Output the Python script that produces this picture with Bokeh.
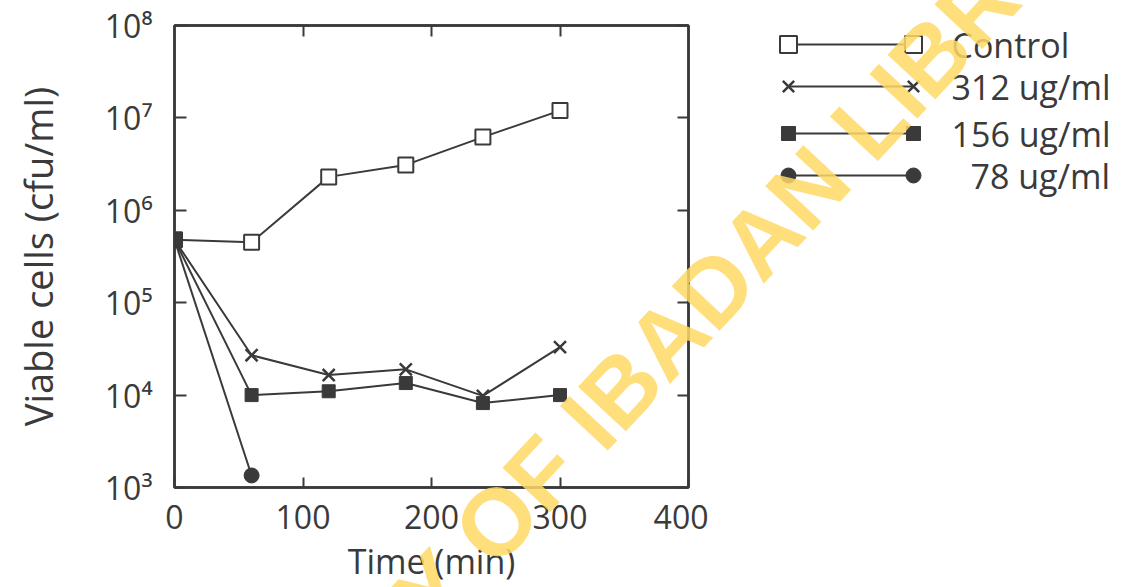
from bokeh.plotting import figure
from bokeh.models import LogAxis, LinearAxis, FixedTicker, Range1d, Label, Div
from bokeh.layouts import row, column
from bokeh.embed import file_html
from bokeh.resources import INLINE

# ---- data ----
time = [0, 60, 120, 180, 240, 300]
control = [4.8e5, 4.5e5, 2.3e6, 3.1e6, 6.2e6, 1.2e7]
conc312 = [4.8e5, 2.7e4, 1.65e4, 1.9e4, 9.8e3, 3.3e4]
conc156 = [4.8e5, 1.0e4, 1.1e4, 1.35e4, 8.2e3, 1.0e4]
time78 = [0, 60]
conc78 = [4.8e5, 1.35e3]

series_names = ["Control", "312 ug/ml", "156 ug/ml", "78 ug/ml"]
x_ticks = [0, 100, 200, 300, 400]
y_ticks = [10**3, 10**4, 10**5, 10**6, 10**7, 10**8]
y_tick_labels = ["10³", "10⁴", "10⁵", "10⁶", "10⁷", "10⁸"]
watermark = "Y OF IBADAN LIBR"

INK = "#3a3a3a"
YEL = "#FFD966"
FONT = "Open Sans"

p = figure(frame_width=514, frame_height=462, y_axis_type="log",
           x_range=Range1d(0, 400), y_range=Range1d(1e3, 1e8),
           output_backend="svg", toolbar_location=None,
           min_border_left=174, min_border_right=20,
           min_border_top=25, min_border_bottom=95)
p.grid.visible = False
p.outline_line_color = INK
p.outline_line_width = 2.5
p.background_fill_color = "white"
p.border_fill_color = "white"

# bottom axis
xa = p.xaxis[0]
xa.ticker = FixedTicker(ticks=x_ticks)
xa.minor_tick_line_color = None
xa.major_tick_in = 10
xa.major_tick_out = 0
xa.axis_line_width = 2.5
xa.axis_line_color = INK
xa.major_tick_line_color = INK
xa.major_tick_line_width = 2
xa.major_label_text_font = FONT
xa.major_label_text_font_size = "32px"
xa.major_label_text_color = INK
xa.major_label_standoff = 17
xa.axis_label = "Time (min)"
xa.axis_label_text_font = FONT
xa.axis_label_text_font_style = "normal"
xa.axis_label_text_font_size = "34px"
xa.axis_label_text_color = INK
xa.axis_label_standoff = 6

# left axis
ya = p.yaxis[0]
ya.ticker = FixedTicker(ticks=y_ticks)
ya.major_label_overrides = dict(zip(y_ticks, y_tick_labels))
ya.minor_tick_line_color = None
ya.major_tick_in = 12
ya.major_tick_out = 0
ya.axis_line_width = 2.5
ya.axis_line_color = INK
ya.major_tick_line_color = INK
ya.major_tick_line_width = 2
ya.major_label_text_font = FONT
ya.major_label_text_font_size = "32px"
ya.major_label_text_color = INK
ya.major_label_standoff = 22
ya.axis_label = "Viable cells (cfu/ml)"
ya.axis_label_text_font = FONT
ya.axis_label_text_font_style = "normal"
ya.axis_label_text_font_size = "38px"
ya.axis_label_text_color = INK
ya.axis_label_standoff = 38

# top and right axes (ticks only, empty labels)
top = LinearAxis(ticker=FixedTicker(ticks=x_ticks[1:-1]))
top.major_label_overrides = {t: "" for t in x_ticks[1:-1]}
right = LogAxis(ticker=FixedTicker(ticks=y_ticks))
right.major_label_overrides = {t: "" for t in y_ticks}
for ax in (top, right):
    ax.major_tick_in = 11
    ax.major_tick_out = 0
    ax.minor_tick_line_color = None
    ax.axis_line_width = 2.5
    ax.axis_line_color = INK
    ax.major_tick_line_color = INK
    ax.major_tick_line_width = 2
    ax.major_label_standoff = 0
p.add_layout(top, "above")
p.add_layout(right, "right")

# series
p.line(time, control, line_color=INK, line_width=2)
p.scatter(time, control, marker="square", size=15, fill_color="white",
          line_color=INK, line_width=2)
p.line(time, conc312, line_color=INK, line_width=2)
p.scatter(time, conc312, marker="x", size=17, line_color=INK, line_width=2.5)
p.line(time, conc156, line_color=INK, line_width=2)
p.scatter(time, conc156, marker="square", size=13, fill_color=INK,
          line_color=INK, line_width=1)
p.line(time78, conc78, line_color=INK, line_width=2)
p.scatter(time78, conc78, marker="circle", size=15, fill_color=INK,
          line_color=INK, line_width=1)

# ---- legend panel (coordinates = page pixels) ----
q = figure(frame_width=418, frame_height=462,
           x_range=Range1d(708, 1126), y_range=Range1d(487, 25),
           output_backend="svg", toolbar_location=None,
           min_border_left=0, min_border_right=0,
           min_border_top=25, min_border_bottom=95)
q.axis.visible = False
q.grid.visible = False
q.outline_line_color = None
q.background_fill_color = "white"
q.border_fill_color = "white"

row_y = [44, 86, 133, 175]
x0, x1, tx = 788, 913, 951
text_dx = [0, 0, 0, 19]
markers = [dict(marker="square", size=17, fill_color="white", line_width=2),
           dict(marker="x", size=16, line_width=2.5),
           dict(marker="square", size=14, fill_color=INK, line_width=1),
           dict(marker="circle", size=15, fill_color=INK, line_width=1)]
for i, name in enumerate(series_names):
    yy = row_y[i]
    q.line([x0, x1], [yy, yy], line_color=INK, line_width=2)
    q.scatter([x0, x1], [yy, yy], line_color=INK, **markers[i])
    q.add_layout(Label(x=tx + text_dx[i], y=yy, text=name, text_font=FONT,
                       text_font_size="34px", text_color=INK,
                       text_align="left", text_baseline="middle"))

# watermark stamped across the whole scan (overlay)
wm = Div(text=watermark, width=1000, height=110,
         styles={"position": "absolute", "left": "201px", "top": "237px",
                 "width": "1000px", "height": "110px",
                 "line-height": "110px", "text-align": "center",
                 "white-space": "nowrap", "font-family": "Liberation Sans",
                 "font-weight": "bold", "font-size": "95px",
                 "color": YEL, "opacity": "0.85",
                 "transform": "rotate(-47deg)", "transform-origin": "50% 50%",
                 "pointer-events": "none", "z-index": "10"})

layout = column(row(p, q), wm)
open("out.html", "w").write(file_html(layout, INLINE))
